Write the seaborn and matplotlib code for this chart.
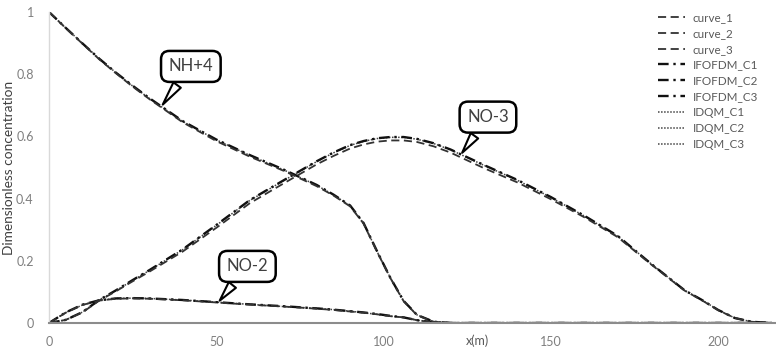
import numpy as np
import pandas as pd
import matplotlib
matplotlib.use('Agg')
import matplotlib.pyplot as plt
import seaborn as sns

sns.set_style('white')
plt.rcParams['font.family'] = ['Lato', 'DejaVu Sans']

# distance along the reach (m)
x = [0, 5, 10, 15, 20, 25, 30, 40, 50, 60, 70, 80, 85, 90, 94, 98, 102, 106,
     110, 115, 120, 130, 140, 150, 160, 170, 180, 190, 195, 200, 205, 210, 216]

# NH+4
curve_1 = [1.0, 0.948, 0.898, 0.848, 0.803, 0.76, 0.72, 0.645, 0.585, 0.535, 0.49, 0.44, 0.41, 0.375, 0.32,
           0.23, 0.145, 0.07, 0.025, 0.004, 0, 0, 0, 0, 0, 0, 0, 0, 0, 0, 0, 0, 0]
ifofdm_c1 = [1.0, 0.949, 0.899, 0.85, 0.805, 0.763, 0.723, 0.649, 0.59, 0.54, 0.494, 0.444, 0.413, 0.378, 0.322,
             0.232, 0.146, 0.071, 0.026, 0.004, 0, 0, 0, 0, 0, 0, 0, 0, 0, 0, 0, 0, 0]
idqm_c1 = [1.0, 0.949, 0.899, 0.85, 0.805, 0.762, 0.722, 0.648, 0.589, 0.539, 0.493, 0.443, 0.412, 0.377, 0.321,
           0.231, 0.146, 0.071, 0.026, 0.004, 0, 0, 0, 0, 0, 0, 0, 0, 0, 0, 0, 0, 0]

# NO-2
curve_2 = [0, 0.033, 0.058, 0.072, 0.078, 0.079, 0.078, 0.073, 0.066, 0.059, 0.053, 0.046, 0.042, 0.037, 0.033,
           0.028, 0.022, 0.018, 0.009, 0.002, 0, 0, 0, 0, 0, 0, 0, 0, 0, 0, 0, 0, 0]
ifofdm_c2 = [0, 0.034, 0.059, 0.073, 0.079, 0.08, 0.079, 0.074, 0.067, 0.06, 0.054, 0.047, 0.043, 0.038, 0.034,
             0.029, 0.023, 0.018, 0.009, 0.002, 0, 0, 0, 0, 0, 0, 0, 0, 0, 0, 0, 0, 0]
idqm_c2 = [0, 0.034, 0.058, 0.073, 0.079, 0.08, 0.079, 0.074, 0.067, 0.06, 0.053, 0.047, 0.043, 0.038, 0.033,
           0.028, 0.022, 0.018, 0.009, 0.002, 0, 0, 0, 0, 0, 0, 0, 0, 0, 0, 0, 0, 0]

# NO-3
curve_3 = [0, 0.01, 0.034, 0.072, 0.102, 0.134, 0.165, 0.23, 0.306, 0.385, 0.448, 0.51, 0.537, 0.561, 0.574,
           0.583, 0.587, 0.587, 0.582, 0.568, 0.548, 0.498, 0.452, 0.398, 0.34, 0.276, 0.188, 0.104, 0.074,
           0.041, 0.016, 0.004, 0]
ifofdm_c3 = [0, 0.01, 0.035, 0.074, 0.105, 0.138, 0.17, 0.237, 0.315, 0.395, 0.458, 0.52, 0.548, 0.572, 0.585,
             0.594, 0.598, 0.598, 0.592, 0.578, 0.558, 0.508, 0.46, 0.405, 0.345, 0.28, 0.19, 0.105, 0.075,
             0.042, 0.016, 0.004, 0]
idqm_c3 = [0, 0.01, 0.035, 0.074, 0.104, 0.137, 0.169, 0.236, 0.314, 0.394, 0.457, 0.519, 0.547, 0.571, 0.584,
           0.593, 0.597, 0.597, 0.591, 0.577, 0.557, 0.507, 0.459, 0.404, 0.344, 0.279, 0.19, 0.105, 0.075,
           0.042, 0.016, 0.004, 0]

names = ['curve_1', 'curve_2', 'curve_3', 'IFOFDM_C1', 'IFOFDM_C2', 'IFOFDM_C3',
         'IDQM_C1', 'IDQM_C2', 'IDQM_C3']
values = [curve_1, curve_2, curve_3, ifofdm_c1, ifofdm_c2, ifofdm_c3, idqm_c1, idqm_c2, idqm_c3]

df = pd.concat([pd.DataFrame({'x': x, 'c': v, 'series': n}) for n, v in zip(names, values)])

styles = {
    'curve': dict(color='#333333', lw=1.3, dashes=(4.5, 2.5)),
    'IFOFDM': dict(color='#111111', lw=1.7, dashes=(4.5, 2.0, 1.0, 2.0)),
    'IDQM': dict(color='#444444', lw=1.1, dashes=(1.0, 1.0)),
}

fig = plt.figure(figsize=(7.76, 3.51), dpi=100)
ax = fig.add_axes([49 / 776, 28 / 351, 726 / 776, 311 / 351])

handles = {}
for n in names[::-1]:
    st = styles[n.split('_')[0]]
    sns.lineplot(data=df[df['series'] == n], x='x', y='c', ax=ax, color=st['color'],
                 lw=st['lw'], estimator=None, label=n)
    ln = ax.lines[-1]
    ln.set_dashes(st['dashes'])
    ln.set_dash_capstyle('butt')
    handles[n] = ln

ax.set_xlim(0, 217)
ax.set_ylim(0, 1)
ax.set_xticks([0, 50, 100, 150, 200])
ax.set_yticks([0, 0.2, 0.4, 0.6, 0.8, 1.0])
ax.set_yticklabels(['0', '0.2', '0.4', '0.6', '0.8', '1'])
ax.tick_params(axis='both', length=0, labelsize=9, labelcolor='#7f7f7f')
ax.tick_params(axis='y', pad=11)
ax.tick_params(axis='x', pad=9)

for s in ['top', 'right']:
    ax.spines[s].set_visible(False)
ax.spines['left'].set_color('#d9d9d9')
ax.spines['left'].set_linewidth(1.0)
ax.spines['bottom'].set_color('#8c8c8c')
ax.spines['bottom'].set_linewidth(1.5)

ax.set_xlabel('x(m)', fontsize=9, color='#595959')
ax.xaxis.set_label_coords(0.59, -0.037)
ax.set_ylabel('Dimensionless concentration', fontsize=9.8, color='#404040')
ax.yaxis.set_label_coords(-0.047, 0.5)

# callouts
box = dict(boxstyle='round,pad=0.45,rounding_size=0.5', fc='white', ec='black', lw=1.8)
arrow = dict(arrowstyle='wedge,tail_width=0.55,shrink_factor=0.5', fc='white', ec='black', lw=1.5)
for txt, tip, pos in [('NH+4', (33.5, 0.695), (42.4, 0.825)),
                      ('NO-3', (123, 0.54), (131.2, 0.662)),
                      ('NO-2', (50.5, 0.065), (59.3, 0.182))]:
    ax.annotate(txt, xy=tip, xytext=pos, ha='center', va='center', fontsize=12,
                color='#404040', bbox=box, arrowprops=arrow)

ax.get_legend().remove()
leg = fig.legend([handles[n] for n in names], names, loc='upper left',
                 bbox_to_anchor=(652 / 776, 1 - 6 / 351), frameon=False, fontsize=8.4,
                 handlelength=2.3, handletextpad=0.7, labelspacing=0.42, borderpad=0)
for t in leg.get_texts():
    t.set_color('#595959')

fig.savefig('out.png', dpi=100)
